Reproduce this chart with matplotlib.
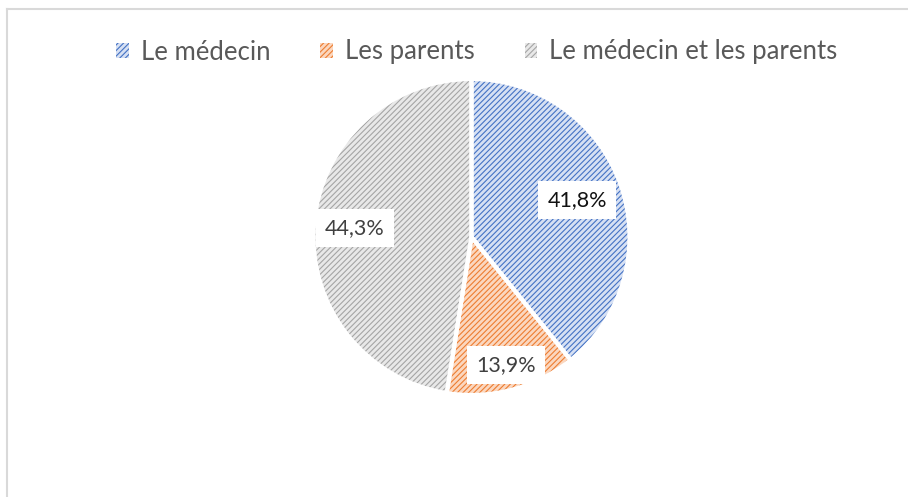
import matplotlib
matplotlib.use("Agg")
import matplotlib.pyplot as plt
import numpy as np
from matplotlib.patches import Patch
from matplotlib.lines import Line2D

categories = ["Le médecin", "Les parents", "Le médecin et les parents"]
slice_values = [39.2, 13.3, 47.5]
# data-label texts as printed in the picture
labels = ["41,8%", "13,9%", "44,3%"]

hatch_colors = ["#4472C4", "#ED7D31", "#A5A5A5"]
fill_colors = ["#D6E0F3", "#FBD7BF", "#E8E8E8"]
label_colors = ["#111111", "#404040", "#404040"]
label_dist = [0.71, 0.84, 0.74]

plt.rcParams['font.family'] = ['Lato', 'DejaVu Sans']
plt.rcParams['hatch.linewidth'] = 0.8

fig = plt.figure(figsize=(9.08, 4.97), dpi=100)
W, H = 908, 497
cx, cy, r = 471.5, 237, 158
ax = fig.add_axes([(cx - r) / W, (H - cy - r) / H, 2 * r / W, 2 * r / H])

# base fill
w1, _ = ax.pie(slice_values, colors=fill_colors, startangle=90, counterclock=False,
               wedgeprops=dict(linewidth=0, edgecolor='none'))
# hatch overlay
w2, _ = ax.pie(slice_values, startangle=90, counterclock=False,
               wedgeprops=dict(linewidth=0, facecolor='none'))
for w, hc in zip(w2, hatch_colors):
    w.set_hatch('//////')
    w.set_edgecolor(hc)
    w.set_linewidth(0)
# white separators
ax.pie(slice_values, startangle=90, counterclock=False,
       wedgeprops=dict(linewidth=3, facecolor='none', edgecolor='white'))

ax.set_xlim(-1, 1)
ax.set_ylim(-1, 1)
ax.set_aspect('equal')

for w, lab, d, tc in zip(w1, labels, label_dist, label_colors):
    mid = np.deg2rad((w.theta1 + w.theta2) / 2)
    ax.text(d * np.cos(mid), d * np.sin(mid), lab, ha='center', va='center',
            fontsize=15.5, color=tc,
            bbox=dict(facecolor='white', edgecolor='none', pad=6.5))

handles = [Patch(facecolor=fc, edgecolor=hc, hatch='//////', linewidth=0)
           for fc, hc in zip(fill_colors, hatch_colors)]
leg = fig.legend(handles, categories, loc='center', bbox_to_anchor=(0.525, 1 - 52 / H),
                 ncol=3, frameon=False, fontsize=18.5, handlelength=0.5, handleheight=0.5,
                 handletextpad=0.45, columnspacing=1.95, labelcolor='#595959')

# chart border (clipped at right/bottom)
fig.add_artist(Line2D([7 / W, 7 / W], [0, 1 - 9 / H], transform=fig.transFigure,
                      color='#D9D9D9', linewidth=1.5))
fig.add_artist(Line2D([7 / W, 1], [1 - 9 / H, 1 - 9 / H], transform=fig.transFigure,
                      color='#D9D9D9', linewidth=1.5))

fig.savefig("out.png", dpi=100)
